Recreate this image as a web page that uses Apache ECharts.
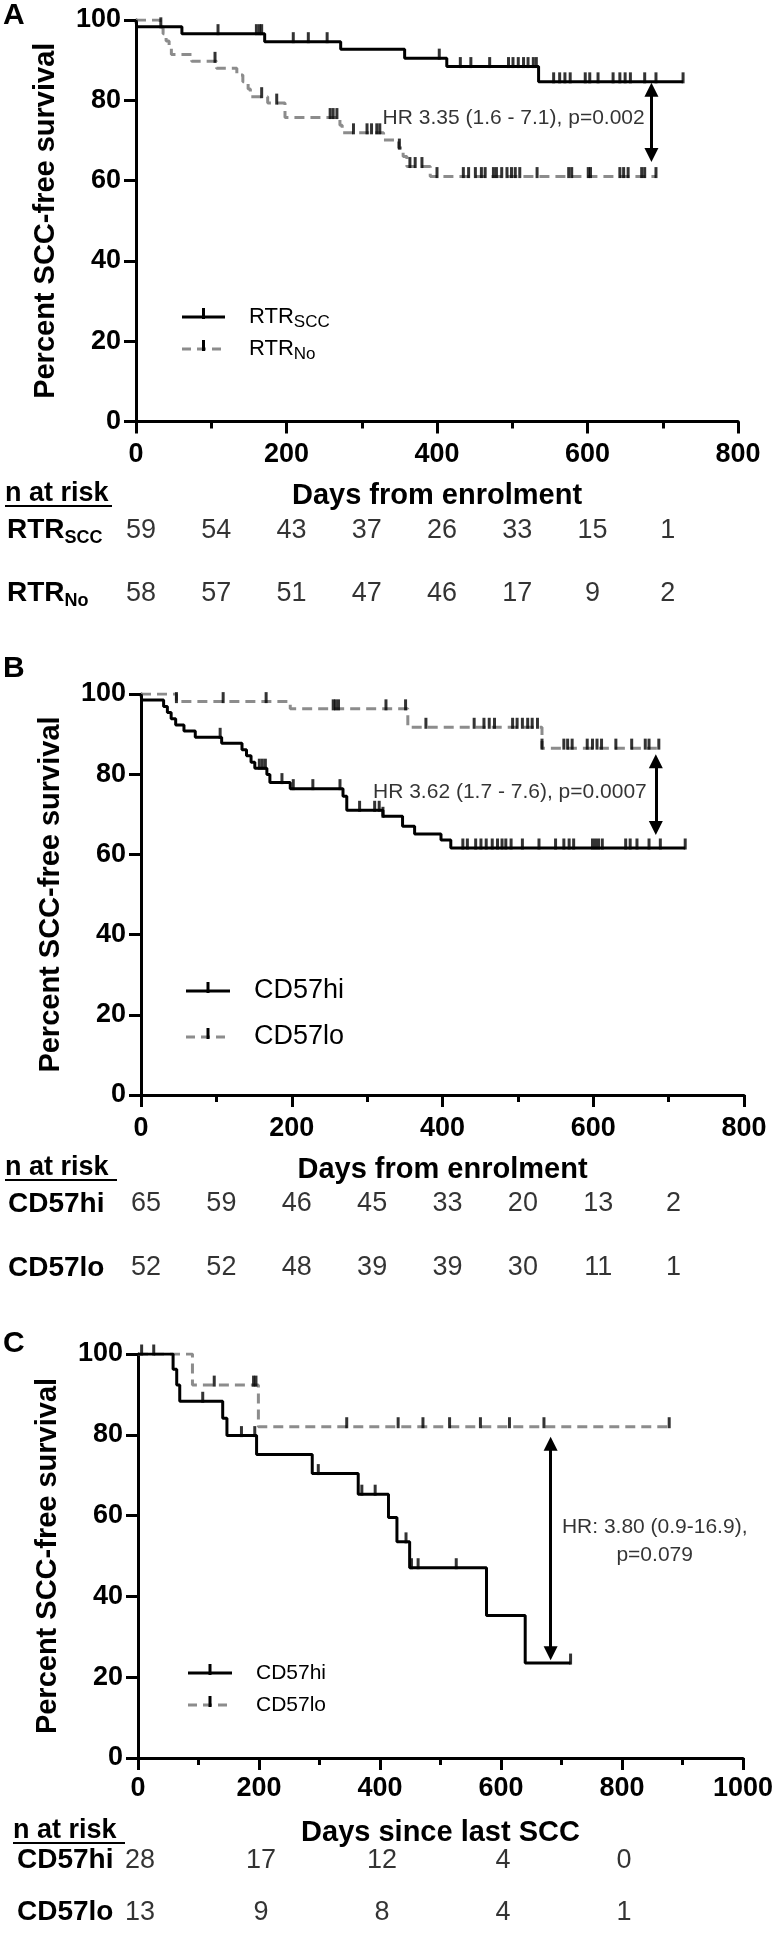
<!DOCTYPE html>
<html><head><meta charset="utf-8">
<script src="https://cdn.jsdelivr.net/npm/echarts@6/dist/echarts.min.js"></script>
<style>html,body{margin:0;padding:0;background:#fff}#c{width:777px;height:1939px}</style>
</head><body><div id="c"></div>
<script>
// ---------------- DATA ----------------
// Panel A: KM steps [day, percent]
const aSccSteps = [[0,100],[1,98.3],[61,96.6],[171,94.6],[272,92.7],[357,90.5],[413,88.4],[535,84.6],[727,84.6]];
const aSccCensor = [33,109,160,164,167,209,229,254,403,431,445,470,495,501,508,515,521,528,532,555,563,570,577,597,603,614,634,643,650,657,676,691,727];
const aNoSteps = [[0,100],[32,98.3],[36,96.6],[40,94.8],[44,93.1],[47,91.4],[74,89.7],[107,88.0],[134,86.3],[142,84.6],[149,82.8],[152,80.9],[175,79.3],[198,75.7],[271,73.8],[274,71.9],[329,70.1],[349,68.1],[355,66.0],[360,63.5],[391,61.0],[691,61.0]];
const aNoCensor = [105,167,187,258,262,267,289,307,313,320,324,350,364,371,380,400,435,442,451,459,464,475,479,486,493,499,504,510,533,575,579,601,604,643,648,654,672,676,691];
const aRiskTimes = [0,100,200,300,400,500,600,700];
const aRiskScc = [59,54,43,37,26,33,15,1];
const aRiskNo = [58,57,51,47,46,17,9,2];

// Panel B
const bHiSteps = [[0,100],[1,98.5],[30,96.9],[35,95.4],[40,93.8],[46,92.3],[57,90.8],[72,89.2],[107,87.7],[134,86.1],[140,84.6],[146,83.0],[151,81.5],[167,79.9],[171,77.9],[198,76.4],[268,74.5],[273,71.0],[321,69.5],[347,67.0],[363,65.1],[398,63.6],[411,61.6],[722,61.6]];
const bHiCensor = [105,157,161,165,187,202,228,264,290,310,316,321,427,433,444,451,458,466,473,479,484,491,506,528,550,561,568,574,599,603,607,612,643,649,658,674,689,722];
const bLoSteps = [[0,100],[47,98.1],[198,96.3],[354,91.7],[532,86.5],[687,86.5]];
const bLoCensor = [47,109,166,255,258,262,325,351,378,442,455,462,469,493,499,506,513,519,526,532,561,566,572,592,599,605,611,630,651,669,674,687];
const bRiskTimes = [0,100,200,300,400,500,600,700];
const bRiskHi = [65,59,46,45,33,20,13,2];
const bRiskLo = [52,52,48,39,39,30,11,1];

// Panel C
const cHiSteps = [[0,100],[58,96.2],[64,92.3],[69,88.3],[140,84.1],[147,79.8],[196,75.1],[288,70.4],[364,65.3],[414,59.5],[428,53.5],[449,47.1],[576,35.3],[640,23.5],[715,23.5]];
const cHiCensor = [6,26,107,171,193,298,370,392,443,452,463,526,715];
const cLoSteps = [[0,100],[90,92.3],[199,82.0],[878,82.0]];
const cLoCensor = [126,191,195,345,430,471,515,566,614,671,878];
const cRiskTimes = [0,200,400,600,800];
const cRiskHi = [28,17,12,4,0];
const cRiskLo = [13,9,8,4,1];

// Annotations
const aHR = 'HR 3.35 (1.6 - 7.1), p=0.002';
const bHR = 'HR 3.62 (1.7 - 7.6), p=0.0007';
const cHR = 'HR: 3.80 (0.9-16.9),\np=0.079';

// ---------------- STYLE / BUILD ----------------
const FF = '"Liberation Sans", Arial, Helvetica, sans-serif';
const GREY = '#8c8c8c';
const BLACK = '#000';

function survAt(steps, t) {
  let s = steps[0][1];
  for (const p of steps) { if (p[0] <= t) s = p[1]; else break; }
  return s;
}
function kmLine(steps, gi, dashed) {
  return {type:'line', data: steps, step:'end', xAxisIndex:gi, yAxisIndex:gi, symbol:'none', silent:true,
    lineStyle:{color: dashed ? GREY : BLACK, width:3, type: dashed ? [10,6] : 'solid'}, z: dashed ? 3 : 4};
}
function censor(steps, days, gi) {
  return {type:'scatter', xAxisIndex:gi, yAxisIndex:gi, silent:true, z:5,
    data: days.map(d => [d, survAt(steps, d)]), symbol:'rect', symbolSize:[3,11], symbolOffset:[0,-4],
    itemStyle:{color:BLACK}};
}
function arrow(gi, x, y1, y2) {
  return {type:'lines', coordinateSystem:'cartesian2d', xAxisIndex:gi, yAxisIndex:gi, silent:true, z:6,
    symbol:['triangle','triangle'], symbolSize:14,
    lineStyle:{color:BLACK, width:3, opacity:1}, data:[{coords:[[x,y1],[x,y2]]}]};
}
function note(gi, x, y, text, align) {
  return {type:'scatter', xAxisIndex:gi, yAxisIndex:gi, silent:true, z:7, data:[[x,y]], symbolSize:1,
    itemStyle:{color:'rgba(0,0,0,0)'},
    label:{show:true, position:'inside', formatter:text, align:align, verticalAlign:'middle',
      fontSize:21, fontFamily:FF, color:BLACK, lineHeight:28}};
}
function risk(gi, times, counts, row, dx) {
  return {type:'scatter', xAxisIndex:gi, yAxisIndex:gi, silent:true, symbolSize:1,
    itemStyle:{color:'rgba(0,0,0,0)'},
    data: times.map((t,i) => [t, row, counts[i]]),
    label:{show:true, position:'inside', offset:[dx,0], formatter:p => String(p.value[2]),
      fontSize:27, fontFamily:FF, color:BLACK}};
}
const axLine = {show:true, onZero:false, lineStyle:{color:BLACK, width:3}};
function mainX(gi, max, name, labelMargin) {
  return {type:'value', gridIndex:gi, min:0, max:max, interval:200,
    axisLine:axLine, axisTick:{show:true, length:12, lineStyle:{color:BLACK, width:3}},
    minorTick:{show:true, splitNumber:2, length:7, lineStyle:{color:BLACK, width:3}},
    splitLine:{show:false}, minorSplitLine:{show:false},
    axisLabel:{fontSize:27, fontWeight:'bold', color:BLACK, fontFamily:FF, margin:labelMargin,
      formatter: v => String(v)},
    name:name, nameLocation:'middle', nameGap:60,
    nameTextStyle:{fontSize:29, fontWeight:'bold', color:BLACK, fontFamily:FF}};
}
function mainY(gi) {
  return {type:'value', gridIndex:gi, min:0, max:100, interval:20,
    axisLine:axLine, axisTick:{show:true, length:12, lineStyle:{color:BLACK, width:3}},
    splitLine:{show:false},
    axisLabel:{fontSize:27, fontWeight:'bold', color:BLACK, fontFamily:FF, margin:15},
    name:'Percent SCC-free survival', nameLocation:'middle', nameGap:76, nameRotate:90,
    nameTextStyle:{fontSize:29, fontWeight:'bold', color:BLACK, fontFamily:FF}};
}
function tableX(gi, max) {
  return {type:'value', gridIndex:gi, min:0, max:max, show:false};
}
const subRich = {
  b:{fontSize:28, fontWeight:'bold', color:BLACK, fontFamily:FF},
  s:{fontSize:18, fontWeight:'bold', color:BLACK, fontFamily:FF, padding:[16,0,0,0]}
};
function tableY(gi, cats, fmt, margin) {
  return {type:'category', gridIndex:gi, data:cats, inverse:true,
    axisLine:{show:false}, axisTick:{show:false}, splitLine:{show:false},
    axisLabel:{align:'left', margin:margin, formatter:fmt, fontSize:28, fontWeight:'bold',
      color:BLACK, fontFamily:FF, rich:subRich}};
}

const grids = [
  {left:136, top:20, width:602, height:401.5},
  {left:136, top:499, width:602, height:126},
  {left:141, top:694, width:603, height:401},
  {left:141, top:1172, width:603, height:128},
  {left:138, top:1354, width:605, height:404},
  {left:138, top:1834, width:605, height:126}
];

function nAtRisk(x, y, w) {
  return [
    {type:'text', x:x, y:y, style:{text:'n at risk', font:'bold 27px ' + FF, fill:BLACK,
      align:'left', verticalAlign:'middle', textAlign:'left', textVerticalAlign:'middle'}},
    {type:'line', shape:{x1:x, y1:y+12, x2:x+w, y2:y+12}, style:{stroke:BLACK, lineWidth:2}}
  ];
}
function legendSample(x1, x2, y, dashed, tx, text, rich, fs) {
  return [
    {type:'line', shape:{x1:x1, y1:y, x2:x2, y2:y},
      style:{stroke: dashed ? GREY : BLACK, lineWidth:3, lineDash: dashed ? [9,6] : null}},
    {type:'rect', shape:{x:(x1+x2)/2 - 1.5, y:y-9, width:3, height:11}, style:{fill:BLACK}},
    {type:'text', x:tx, y:y, style:{text:text, rich:rich, font: fs + 'px ' + FF, fill:BLACK,
      align:'left', verticalAlign:'middle', textAlign:'left', textVerticalAlign:'middle'}}
  ];
}
const legRichA = {
  a:{fontSize:22, fontFamily:FF, fill:BLACK, color:BLACK},
  s:{fontSize:17, fontFamily:FF, fill:BLACK, color:BLACK, padding:[11,0,0,0]}
};
function letter(t, y) {
  return {type:'text', x:3, y:y, style:{text:t, font:'bold 30px ' + FF, fill:BLACK,
    align:'left', verticalAlign:'middle', textAlign:'left', textVerticalAlign:'middle'}};
}

const graphics = [].concat(
  [letter('A', 16), letter('B', 669), letter('C', 1344)],
  nAtRisk(5, 494, 107), nAtRisk(5, 1168, 112), nAtRisk(13, 1831, 112),
  legendSample(182, 225, 317, false, 249, '{a|RTR}{s|SCC}', legRichA, 22),
  legendSample(182, 225, 349, true, 249, '{a|RTR}{s|No}', legRichA, 22),
  legendSample(186, 230, 991, false, 254, 'CD57hi', null, 27),
  legendSample(186, 230, 1037, true, 254, 'CD57lo', null, 27),
  legendSample(188, 232, 1673, false, 256, 'CD57hi', null, 21),
  legendSample(188, 232, 1705, true, 256, 'CD57lo', null, 21)
);

const option = {
  animation:false,
  backgroundColor:'#fff',
  textStyle:{fontFamily:FF},
  grid: grids,
  xAxis: [
    mainX(0, 800, 'Days from enrolment', 20), tableX(1, 800),
    mainX(2, 800, 'Days from enrolment', 20), tableX(3, 800),
    mainX(4, 1000, 'Days since last SCC', 17), tableX(5, 1000)
  ],
  yAxis: [
    mainY(0), tableY(1, ['SCC','No'], v => '{b|RTR}{s|' + v + '}', 129),
    mainY(2), tableY(3, ['CD57hi','CD57lo'], v => v, 133),
    mainY(4), tableY(5, ['CD57hi','CD57lo'], v => v, 121)
  ],
  series: [
    kmLine(aNoSteps, 0, true), kmLine(aSccSteps, 0, false),
    censor(aNoSteps, aNoCensor, 0), censor(aSccSteps, aSccCensor, 0),
    arrow(0, 685, 82.6, 66.4), note(0, 676, 75.6, aHR, 'right'),
    risk(1, aRiskTimes, aRiskScc, 0, 5), risk(1, aRiskTimes, aRiskNo, 1, 5),

    kmLine(bLoSteps, 2, true), kmLine(bHiSteps, 2, false),
    censor(bLoSteps, bLoCensor, 2), censor(bHiSteps, bHiCensor, 2),
    arrow(2, 683, 83.2, 66.6), note(2, 671, 75.4, bHR, 'right'),
    risk(3, bRiskTimes, bRiskHi, 0, 5), risk(3, bRiskTimes, bRiskLo, 1, 5),

    kmLine(cLoSteps, 4, true), kmLine(cHiSteps, 4, false),
    censor(cLoSteps, cLoCensor, 4), censor(cHiSteps, cHiCensor, 4),
    arrow(4, 682, 77.8, 25.9), note(4, 854, 53.7, cHR, 'center'),
    risk(5, cRiskTimes, cRiskHi, 0, 2), risk(5, cRiskTimes, cRiskLo, 1, 2)
  ],
  graphic: graphics
};

const chart = echarts.init(document.getElementById('c'), null, {renderer:'canvas'});
chart.setOption(option);
</script>
</body></html>
